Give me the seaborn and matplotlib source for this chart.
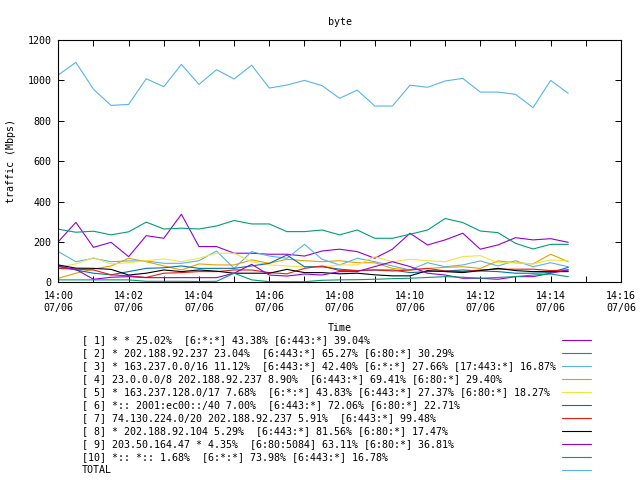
import matplotlib
matplotlib.use("Agg")
import matplotlib.pyplot as plt
import matplotlib.dates as mdates
from matplotlib.lines import Line2D
import seaborn as sns
import pandas as pd

# 30 s samples, 14:00:00 .. 14:14:30
times = pd.date_range("2015-07-06 14:00:00", periods=30, freq="30s")

labels = [
    "[ 1] * * 25.02%  [6:*:*] 43.38% [6:443:*] 39.04%",
    "[ 2] * 202.188.92.237 23.04%  [6:443:*] 65.27% [6:80:*] 30.29%",
    "[ 3] * 163.237.0.0/16 11.12%  [6:443:*] 42.40% [6:*:*] 27.66% [17:443:*] 16.87%",
    "[ 4] 23.0.0.0/8 202.188.92.237 8.90%  [6:443:*] 69.41% [6:80:*] 29.40%",
    "[ 5] * 163.237.128.0/17 7.68%  [6:*:*] 43.83% [6:443:*] 27.37% [6:80:*] 18.27%",
    "[ 6] *:: 2001:ec00::/40 7.00%  [6:443:*] 72.06% [6:80:*] 22.71%",
    "[ 7] 74.130.224.0/20 202.188.92.237 5.91%  [6:443:*] 99.48%",
    "[ 8] * 202.188.92.104 5.29%  [6:443:*] 81.56% [6:80:*] 17.47%",
    "[ 9] 203.50.164.47 * 4.35%  [6:80:5084] 63.11% [6:80:*] 36.81%",
    "[10] *:: *:: 1.68%  [6:*:*] 73.98% [6:443:*] 16.78%",
    "TOTAL",
]

s1 = [201, 297, 173, 198, 127, 231, 218, 337, 177, 177, 144, 144, 139, 139, 130,
      155, 164, 152, 119, 164, 243, 185, 210, 243, 164, 185, 221, 210, 216, 198]
s2 = [263, 248, 253, 235, 250, 298, 264, 268, 264, 279, 306, 289, 289, 251, 251,
      259, 235, 259, 218, 218, 238, 259, 316, 296, 254, 246, 193, 165, 188, 188]
s3 = [152, 102, 119, 102, 106, 106, 94, 94, 107, 155, 69, 152, 130, 119, 188,
      114, 86, 119, 102, 81, 61, 97, 77, 86, 106, 81, 107, 77, 97, 77]
s4 = [20, 45, 65, 81, 119, 102, 81, 61, 91, 86, 86, 111, 94, 114, 107,
      102, 107, 97, 97, 69, 61, 69, 74, 77, 69, 106, 97, 91, 139, 102]
s5 = [75, 91, 122, 91, 97, 107, 116, 102, 119, 144, 144, 102, 86, 81, 77,
      74, 86, 86, 127, 102, 114, 107, 102, 127, 132, 97, 97, 91, 111, 106]
s6 = [81, 61, 45, 37, 53, 69, 72, 81, 69, 69, 69, 81, 94, 135, 77,
      77, 65, 58, 61, 61, 48, 53, 56, 61, 56, 53, 45, 45, 48, 74]
s7 = [69, 65, 61, 37, 32, 24, 45, 48, 53, 53, 61, 61, 48, 42, 69,
      81, 58, 58, 61, 56, 61, 69, 56, 53, 61, 65, 65, 65, 58, 61]
s8 = [86, 70, 69, 64, 36, 45, 61, 53, 61, 55, 45, 45, 45, 64, 48,
      48, 42, 45, 37, 32, 32, 58, 53, 48, 58, 69, 58, 53, 53, 53]
s9 = [78, 64, 15, 25, 28, 23, 23, 23, 23, 23, 45, 89, 36, 31, 41,
      36, 53, 53, 78, 102, 78, 45, 36, 20, 20, 15, 28, 28, 45, 61]
s10 = [12, 12, 12, 12, 12, 5, 5, 5, 4, 5, 45, 12, 3, 3, 3,
       10, 12, 13, 15, 18, 20, 24, 28, 25, 20, 24, 28, 36, 41, 28]
total = [1027, 1089, 956, 876, 881, 1008, 969, 1079, 980, 1053, 1007, 1075, 962, 977, 1000,
         974, 911, 952, 873, 873, 976, 966, 997, 1010, 942, 942, 931, 865, 1000, 936]

colors = ["#9400D3", "#009E73", "#56B4E9", "#E69F00", "#F0E442", "#0072B2",
          "#E51E10", "#000000", "#9400D3", "#009E73", "#56B4E9"]

series = [s1, s2, s3, s4, s5, s6, s7, s8, s9, s10, total]
frames = [pd.DataFrame({"time": times, "traffic": vals, "flow": name})
          for name, vals in zip(labels, series)]
data = pd.concat(frames, ignore_index=True)

sns.set_theme(style="white")
plt.rcParams["font.family"] = ["DejaVu Sans Mono"]
plt.rcParams["font.size"] = 7.2

W, H = 640, 480
fig = plt.figure(figsize=(6.4, 4.8), dpi=100)
x0, x1, y0, y1 = 58.3, 621.0, 40.0, 282.3
ax = fig.add_axes([x0 / W, 1 - y1 / H, (x1 - x0) / W, (y1 - y0) / H])

sns.lineplot(data=data, x="time", y="traffic", hue="flow", hue_order=labels,
             palette=colors, linewidth=0.8, legend=False, ax=ax)

ax.set_xlim(pd.Timestamp("2015-07-06 14:00:00"), pd.Timestamp("2015-07-06 14:16:00"))
ax.set_ylim(0, 1200)
ax.set_yticks(range(0, 1201, 200))
ax.xaxis.set_major_locator(mdates.MinuteLocator(byminute=range(0, 60, 2)))
ax.xaxis.set_minor_locator(mdates.MinuteLocator(byminute=range(1, 60, 2)))
ax.xaxis.set_major_formatter(mdates.DateFormatter("%H:%M\n%m/%d"))

for sp in ax.spines.values():
    sp.set_visible(True)
    sp.set_color("black")
    sp.set_linewidth(0.8)

ax.tick_params(which="both", direction="in", length=4, width=0.7, color="black",
               top=True, right=True, bottom=True, left=True)
ax.tick_params(axis="x", which="major", pad=6, labelsize=7.2, labelcolor="black")
ax.tick_params(axis="y", which="major", pad=5, labelsize=7.2, labelcolor="black")
for lab in ax.get_xticklabels():
    lab.set_linespacing(1.35)

ax.set_title("byte", fontsize=7.2, pad=11, color="black")
ax.set_ylabel("traffic (Mbps)", fontsize=7.2, color="black")
ax.yaxis.set_label_coords(-0.076, 0.5)
ax.set_xlabel("Time", fontsize=7.2, color="black", va="center")
ax.xaxis.set_label_coords(0.5, (y1 - 328) / (y1 - y0))

# gnuplot-style key below the plot
for i, (name, col) in enumerate(zip(labels, colors)):
    yy = 1 - (340 + 13 * i) / H
    fig.text(82 / W, yy, name, ha="left", va="center", fontsize=7.2, color="black")
    fig.add_artist(Line2D([562 / W, 591 / W], [yy, yy], transform=fig.transFigure,
                          color=col, linewidth=0.8))

fig.savefig("out.png", dpi=100)
